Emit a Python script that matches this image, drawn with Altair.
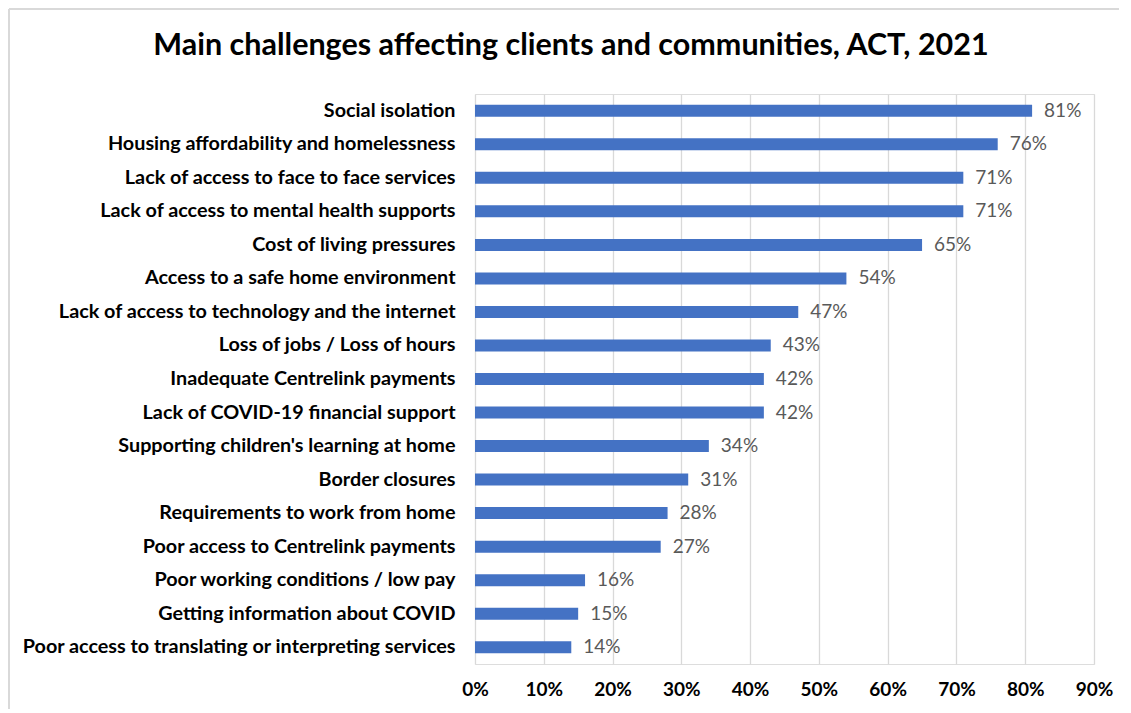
import altair as alt
import pandas as pd

categories = [
    "Social isolation",
    "Housing affordability and homelessness",
    "Lack of access to face to face services",
    "Lack of access to mental health supports",
    "Cost of living pressures",
    "Access to a safe home environment",
    "Lack of access to technology and the internet",
    "Loss of jobs / Loss of hours",
    "Inadequate Centrelink payments",
    "Lack of COVID-19 financial support",
    "Supporting children's learning at home",
    "Border closures",
    "Requirements to work from home",
    "Poor access to Centrelink payments",
    "Poor working conditions / low pay",
    "Getting information about COVID",
    "Poor access to translating or interpreting services",
]
values = [0.81, 0.76, 0.71, 0.71, 0.65, 0.54, 0.47, 0.43, 0.42, 0.42,
          0.34, 0.31, 0.28, 0.27, 0.16, 0.15, 0.14]
x_ticks = [0, 0.1, 0.2, 0.3, 0.4, 0.5, 0.6, 0.7, 0.8, 0.9]
title_text = ["Main challenges affecting clients and communities, ACT, 2021"]

df = pd.DataFrame({"category": categories, "value": values})

W, H = 619, 570
PL, PT, PR, PB = 467, 86, 25, 45
FONT = "Lato"

y_enc = alt.Y("category:N", sort=categories,
              scale=alt.Scale(paddingInner=0, paddingOuter=0),
              axis=alt.Axis(title=None, domain=False, ticks=False, grid=False,
                            labelFont=FONT, labelFontSize=19.8, labelFontWeight="bold",
                            labelColor="#000000", labelPadding=20, labelLimit=470))
x_enc = alt.X("value:Q", scale=alt.Scale(domain=[0, 0.9], nice=False),
              axis=alt.Axis(title=None, values=x_ticks, format=".0%", domain=False,
                            ticks=False, grid=True, gridColor="#d9d9d9", gridWidth=1.3,
                            labelFont=FONT, labelFontSize=19, labelFontWeight="bold",
                            labelColor="#000000", labelPadding=16, labelFlush=False,
                            labelOverlap=False))

one = pd.DataFrame({"a": [0]})
border_top = alt.Chart(one).mark_rule(
    stroke="#d9d9d9", strokeWidth=2, clip=False
).encode(x=alt.value(-PL + 1), x2=alt.value(W + PR + 10), y=alt.value(-PT + 1))
border_left = alt.Chart(one).mark_rule(
    stroke="#d9d9d9", strokeWidth=2, clip=False
).encode(x=alt.value(-PL + 1), y=alt.value(-PT + 1), y2=alt.value(H + PB + 10))

title = alt.Chart(pd.DataFrame({"t": title_text})).mark_text(
    font=FONT, fontSize=30.5, fontWeight="bold", color="#000000",
    align="center", baseline="middle", clip=False
).encode(text="t:N", x=alt.value(96), y=alt.value(-48))

bars = alt.Chart(df).mark_bar(size=12, color="#4472C4").encode(x=x_enc, y=y_enc)

labels = alt.Chart(df).mark_text(
    align="left", baseline="middle", dx=12, font=FONT, fontSize=19, color="#595959"
).encode(x=x_enc, y=y_enc, text=alt.Text("value:Q", format=".0%"))

chart = alt.layer(border_top, border_left, title, bars, labels).properties(
    width=W, height=H,
    padding={"left": PL, "top": PT, "right": PR, "bottom": PB},
    autosize=alt.AutoSizeParams(type="none"),
).configure_view(stroke="transparent", strokeWidth=0).configure_axis(
    domain=False, ticks=False
).configure(background="white")

chart.save("out.html", embed_options={"renderer": "svg", "actions": False})
